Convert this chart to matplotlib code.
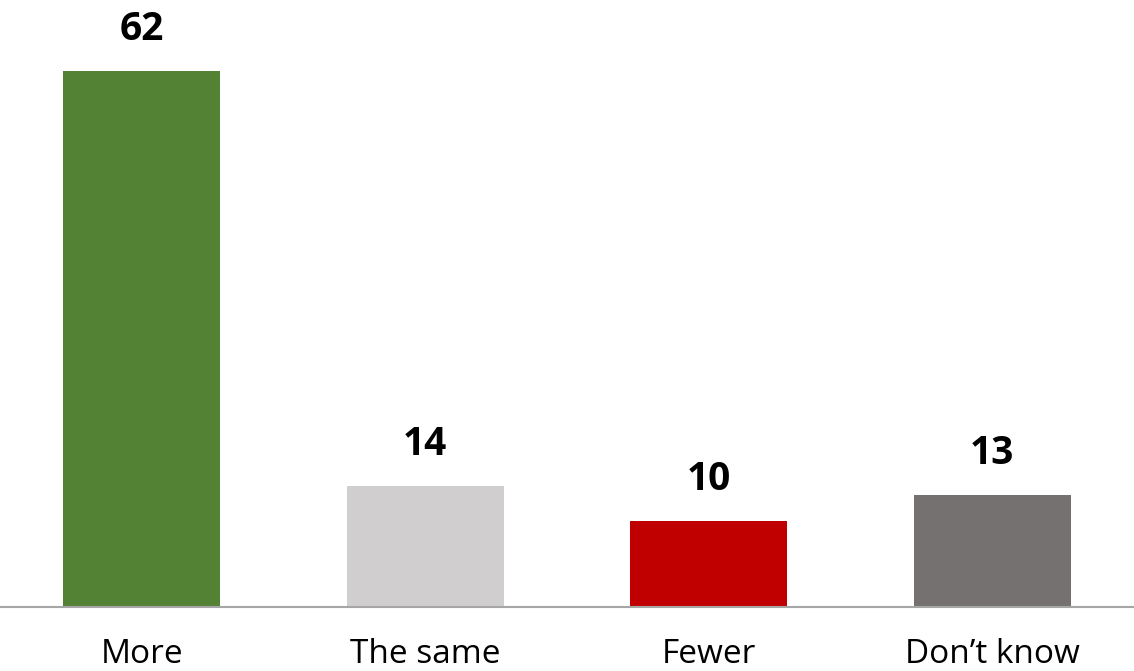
import matplotlib
matplotlib.use("Agg")
import matplotlib.pyplot as plt

# ---------------- DATA ---------------- #
categories = ["More", "The same", "Fewer", "Don\u2019t know"]
values = [62, 14, 10, 13]
colors = ["#548235", "#D0CECE", "#C00000", "#767171"]

# ---------------- DRAW ---------------- #
fig = plt.figure(figsize=(11.34, 6.71), dpi=100)
ax = fig.add_axes([0, 0.0954, 1, 0.9046])

x = range(len(categories))
bars = ax.bar(x, values, width=0.554, color=colors)

for b, v in zip(bars, values):
    ax.text(b.get_x() + b.get_width() / 2, v + 2.5, str(v),
            ha="center", va="bottom", fontsize=28, fontweight="bold",
            family="Open Sans", color="black")

ax.set_xlim(-0.5, 3.5)
ax.set_ylim(0, 70.2)
ax.set_xticks(list(x))
ax.set_xticklabels(categories, family="Open Sans", fontsize=24)
ax.tick_params(axis="x", length=0, pad=22)
ax.set_yticks([])

for s in ["top", "right", "left"]:
    ax.spines[s].set_visible(False)
ax.spines["bottom"].set_color("#A6A6A6")
ax.spines["bottom"].set_linewidth(1.5)

fig.savefig("out.png", dpi=100)
